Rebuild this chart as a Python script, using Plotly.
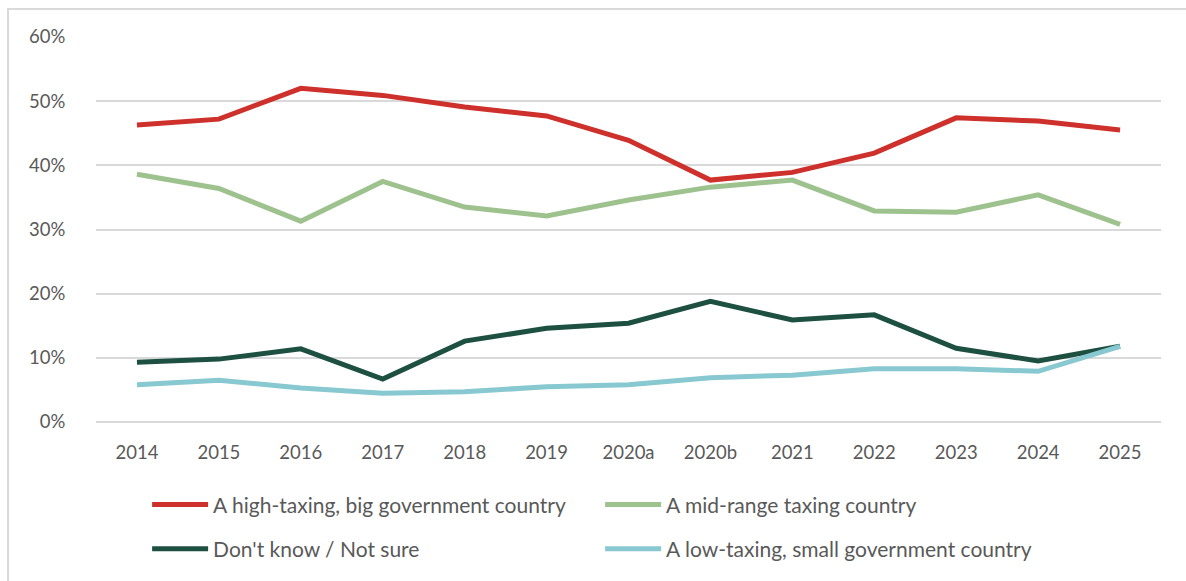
import plotly.graph_objects as go

# Survey years (two waves in 2020)
years = ["2014", "2015", "2016", "2017", "2018", "2019", "2020a", "2020b",
         "2021", "2022", "2023", "2024", "2025"]

# Share of respondents preferring each type of country
high_taxing = [0.463, 0.472, 0.520, 0.509, 0.491, 0.477, 0.439, 0.377,
               0.389, 0.419, 0.474, 0.469, 0.455]
mid_range = [0.386, 0.364, 0.313, 0.375, 0.335, 0.321, 0.346, 0.366,
             0.377, 0.329, 0.327, 0.354, 0.308]
dont_know = [0.093, 0.098, 0.114, 0.067, 0.126, 0.146, 0.154, 0.188,
             0.159, 0.167, 0.115, 0.095, 0.118]
low_taxing = [0.058, 0.065, 0.053, 0.045, 0.047, 0.055, 0.058, 0.069,
              0.073, 0.083, 0.083, 0.079, 0.118]

series = [
    ("A high-taxing, big government country", high_taxing, "#CE302B", "legend"),
    ("A mid-range taxing country", mid_range, "#9DC28E", "legend"),
    ("Don't know / Not sure", dont_know, "#1E5042", "legend2"),
    ("A low-taxing, small government country", low_taxing, "#88C8D0", "legend2"),
]

FONT = "Lato, 'Open Sans', sans-serif"
GREY_TEXT = "#595959"
GRID = "#D9D9D9"

fig = go.Figure()
for name, vals, color, leg in series:
    fig.add_trace(go.Scatter(
        x=years, y=vals, name=name, mode="lines",
        line=dict(color=color, width=5),
        legend=leg, hoverinfo="skip",
    ))

legend_common = dict(
    orientation="h", xanchor="left", yanchor="middle",
    x=0.048, entrywidth=382, entrywidthmode="pixels",
    font=dict(family=FONT, size=21, color=GREY_TEXT),
    bgcolor="rgba(0,0,0,0)", itemwidth=56, traceorder="normal",
)

fig.update_layout(
    width=1186, height=581,
    margin=dict(l=96, r=25, t=37, b=159),
    paper_bgcolor="white", plot_bgcolor="white",
    font=dict(family=FONT, size=18, color=GREY_TEXT),
    showlegend=True,
    legend=dict(legend_common, y=-0.215),
    legend2=dict(legend_common, y=-0.33),
    xaxis=dict(
        type="category", range=[-0.5, 12.5],
        showgrid=False, showline=False, zeroline=False,
        ticks="outside", ticklen=14, tickcolor="rgba(0,0,0,0)",
        tickfont=dict(family=FONT, size=18.5, color=GREY_TEXT),
        fixedrange=True,
    ),
    yaxis=dict(
        range=[0, 0.6], dtick=0.1, tickformat=".0%",
        showgrid=True, gridcolor=GRID, gridwidth=2,
        zeroline=True, zerolinecolor=GRID, zerolinewidth=2,
        showline=False,
        ticks="outside", ticklen=26, tickcolor="rgba(0,0,0,0)",
        tickfont=dict(family=FONT, size=18.5, color=GREY_TEXT),
        fixedrange=True,
    ),
    shapes=[dict(
        type="rect", xref="paper", yref="paper",
        x0=-0.0826, x1=1.2, y0=-0.6, y1=1.0727,
        line=dict(color=GRID, width=2), fillcolor="rgba(0,0,0,0)",
        layer="below",
    )],
)

fig.write_html("out.html")
